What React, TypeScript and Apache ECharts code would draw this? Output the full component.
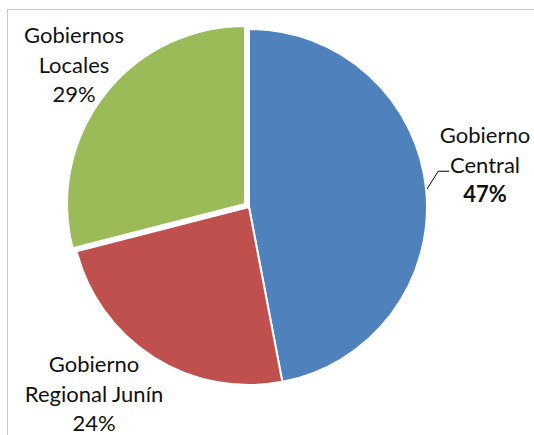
import React, { useEffect, useRef } from 'react';
import * as echarts from 'echarts';

const categories = ['Gobierno\nCentral', 'Gobierno\nRegional Junín', 'Gobiernos\nLocales'];
const values = [47, 24, 29];
const colors = ['#4F81BD', '#C0504D', '#9BBB59'];
const exploded = [false, false, true];
const boldPercent = [true, false, false];

export default function App() {
  const ref = useRef<HTMLDivElement>(null);
  useEffect(() => {
    const chart = echarts.init(ref.current as HTMLDivElement, null, { renderer: 'svg' });
    const cx = 249;
    const cy = 207;
    const explodeBy = 5;
    const total = values.reduce((a, b) => a + b, 0);
    const labelPos = [
      { x: 485, y: 164 },
      { x: 94, y: 393 },
      { x: 74, y: 64 },
    ];
    const font = 'Lato, "Open Sans", sans-serif';

    // offset of the exploded slice, along its mid angle
    let acc = 0;
    let exDx = 0;
    let exDy = 0;
    values.forEach((v, i) => {
      const mid = ((acc + v / 2) / total) * Math.PI * 2;
      if (exploded[i]) {
        exDx = explodeBy * Math.sin(mid);
        exDy = -explodeBy * Math.cos(mid);
      }
      acc += v;
    });

    const base = {
      type: 'pie',
      radius: 178,
      startAngle: 90,
      clockwise: true,
      avoidLabelOverlap: false,
      emphasis: { disabled: true },
      silent: true,
    };

    chart.setOption({
      animation: false,
      backgroundColor: '#ffffff',
      graphic: [
        { type: 'line', shape: { x1: 7, y1: 9.5, x2: 534, y2: 9.5 }, style: { stroke: '#c8c8c8', lineWidth: 1 } },
        { type: 'line', shape: { x1: 7.5, y1: 9, x2: 7.5, y2: 435 }, style: { stroke: '#c8c8c8', lineWidth: 1 } },
      ],
      series: [
        {
          ...base,
          name: 'main',
          center: [cx, cy],
          itemStyle: { borderColor: '#ffffff', borderWidth: 2 },
          label: {
            show: true,
            position: 'outside',
            color: '#111111',
            fontFamily: font,
            fontSize: 22,
            lineHeight: 29.5,
            align: 'center',
            rich: {
              p: { fontFamily: font, fontSize: 22, lineHeight: 29.5, fontWeight: 'bold', color: '#111111' },
            },
          },
          labelLine: { show: false },
          labelLayout: (params: any) => {
            const i = params.dataIndex;
            const pos = labelPos[i];
            const res: any = { x: pos.x, y: pos.y, align: 'center', verticalAlign: 'middle' };
            if (i === 0) {
              const p0 = params.labelLinePoints && params.labelLinePoints[0]
                ? params.labelLinePoints[0]
                : [425, 190];
              const p1 = [p0[0] + 12, p0[1] - 19];
              const p2 = [p1[0] + 11, p1[1]];
              res.labelLinePoints = [p0, p1, p2];
            }
            return res;
          },
          data: categories.map((name, i) => ({
            name,
            value: values[i],
            itemStyle: exploded[i]
              ? { color: 'transparent', borderWidth: 0 }
              : { color: colors[i] },
            label: {
              formatter: boldPercent[i] ? '{b}\n{p|{c}%}' : '{b}\n{c}%',
            },
            labelLine: i === 0
              ? { show: true, length: 10, length2: 10, lineStyle: { color: '#000000', width: 1 } }
              : { show: false },
          })),
        },
        {
          ...base,
          name: 'exploded',
          center: [cx + exDx, cy + exDy],
          itemStyle: { borderColor: '#ffffff', borderWidth: 2 },
          label: { show: false },
          labelLine: { show: false },
          data: categories.map((name, i) => ({
            name,
            value: values[i],
            itemStyle: exploded[i]
              ? { color: colors[i] }
              : { color: 'transparent', borderWidth: 0 },
          })),
        },
      ],
    });
    return () => chart.dispose();
  }, []);
  return (
    <div
      ref={ref}
      style={{ position: 'fixed', left: 0, top: 0, width: 534, height: 435 }}
    />
  );
}
